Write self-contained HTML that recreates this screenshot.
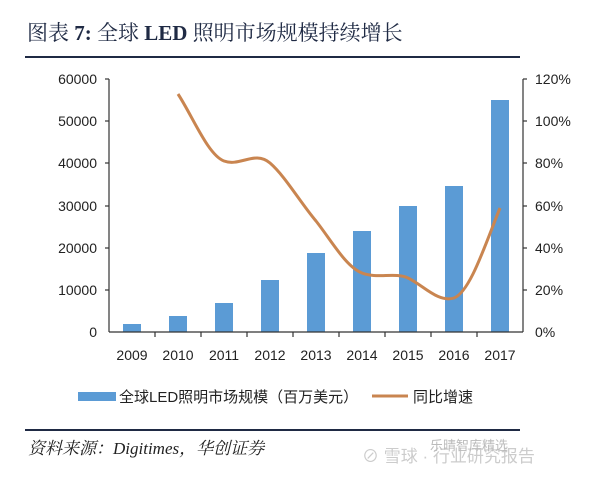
<!DOCTYPE html>
<html><head><meta charset="utf-8"><style>
body{margin:0;background:#fff;width:600px;height:478px;overflow:hidden}
</style></head><body>
<svg width="600" height="478" xmlns="http://www.w3.org/2000/svg" font-family="Liberation Sans, Noto Sans CJK SC, sans-serif">
<text x="27" y="40" font-family="Liberation Serif, Noto Serif CJK SC, serif" font-size="21" fill="#1f2a44">图表 <tspan font-weight="bold">7:</tspan>  全球 <tspan font-weight="bold">LED</tspan> 照明市场规模持续增长</text>
<line x1="25" y1="57" x2="520" y2="57" stroke="#1f2a44" stroke-width="2"/>
<g fill="#5b9bd5">
<rect x="123" y="324" width="18" height="8"/>
<rect x="169" y="316" width="18" height="16"/>
<rect x="215" y="303" width="18" height="29"/>
<rect x="261" y="280" width="18" height="52"/>
<rect x="307" y="253" width="18" height="79"/>
<rect x="353" y="231" width="18" height="101"/>
<rect x="399" y="206" width="18" height="126"/>
<rect x="445" y="186" width="18" height="146"/>
<rect x="491" y="100" width="18" height="232"/>
</g>
<g stroke="#333" stroke-width="1.2">
<line x1="109" y1="79" x2="109" y2="332"/>
<line x1="523" y1="79" x2="523" y2="332"/>
<line x1="109" y1="332" x2="523" y2="332"/>
<line x1="105" y1="79" x2="109" y2="79"/><line x1="105" y1="121" x2="109" y2="121"/><line x1="105" y1="163" x2="109" y2="163"/><line x1="105" y1="206" x2="109" y2="206"/><line x1="105" y1="248" x2="109" y2="248"/><line x1="105" y1="290" x2="109" y2="290"/>
<line x1="523" y1="79" x2="527" y2="79"/><line x1="523" y1="121" x2="527" y2="121"/><line x1="523" y1="163" x2="527" y2="163"/><line x1="523" y1="206" x2="527" y2="206"/><line x1="523" y1="248" x2="527" y2="248"/><line x1="523" y1="290" x2="527" y2="290"/>
<line x1="155" y1="332" x2="155" y2="337"/><line x1="201" y1="332" x2="201" y2="337"/><line x1="247" y1="332" x2="247" y2="337"/><line x1="293" y1="332" x2="293" y2="337"/><line x1="339" y1="332" x2="339" y2="337"/><line x1="385" y1="332" x2="385" y2="337"/><line x1="431" y1="332" x2="431" y2="337"/><line x1="477" y1="332" x2="477" y2="337"/>
</g>
<path d="M178,94 C193,117 208,155 224,161 C240,167 255,150 270,163 C285,176 300,202 316,221 C331,240 346,267 362,273 C377,279 395,272 408,278 C423,285 438,303 454,298 C470,292 485,245 500,208" fill="none" stroke="#c98550" stroke-width="3"/>
<g font-size="14" fill="#222" text-anchor="end">
<text x="97" y="84">60000</text><text x="97" y="126">50000</text><text x="97" y="168">40000</text><text x="97" y="211">30000</text><text x="97" y="253">20000</text><text x="97" y="295">10000</text><text x="97" y="337">0</text>
</g>
<g font-size="14" fill="#222">
<text x="535" y="84">120%</text><text x="535" y="126">100%</text><text x="535" y="168">80%</text><text x="535" y="211">60%</text><text x="535" y="253">40%</text><text x="535" y="295">20%</text><text x="535" y="337">0%</text>
</g>
<g font-size="14" fill="#222" text-anchor="middle">
<text x="132" y="360">2009</text><text x="178" y="360">2010</text><text x="224" y="360">2011</text><text x="270" y="360">2012</text><text x="316" y="360">2013</text><text x="362" y="360">2014</text><text x="408" y="360">2015</text><text x="454" y="360">2016</text><text x="500" y="360">2017</text>
</g>
<rect x="78" y="392" width="38" height="9" fill="#5b9bd5"/>
<text x="119" y="402" font-size="15" fill="#222">全球LED照明市场规模（百万美元）</text>
<line x1="372" y1="396" x2="408" y2="396" stroke="#c98550" stroke-width="3"/>
<text x="413" y="402" font-size="15" fill="#222">同比增速</text>
<line x1="25" y1="430" x2="520" y2="430" stroke="#1f2a44" stroke-width="2"/>
<text x="28" y="454" font-family="Liberation Serif, Noto Serif CJK SC, serif" font-style="italic" font-size="17" fill="#222">资料来源：Digitimes，华创证券</text>
<text x="362" y="462" font-size="17" fill="#ccc">⊘ 雪球 · 行业研究报告</text>
<text x="430" y="450" font-size="13" fill="#bbb">乐晴智库精选</text>
</svg>
</body></html>
